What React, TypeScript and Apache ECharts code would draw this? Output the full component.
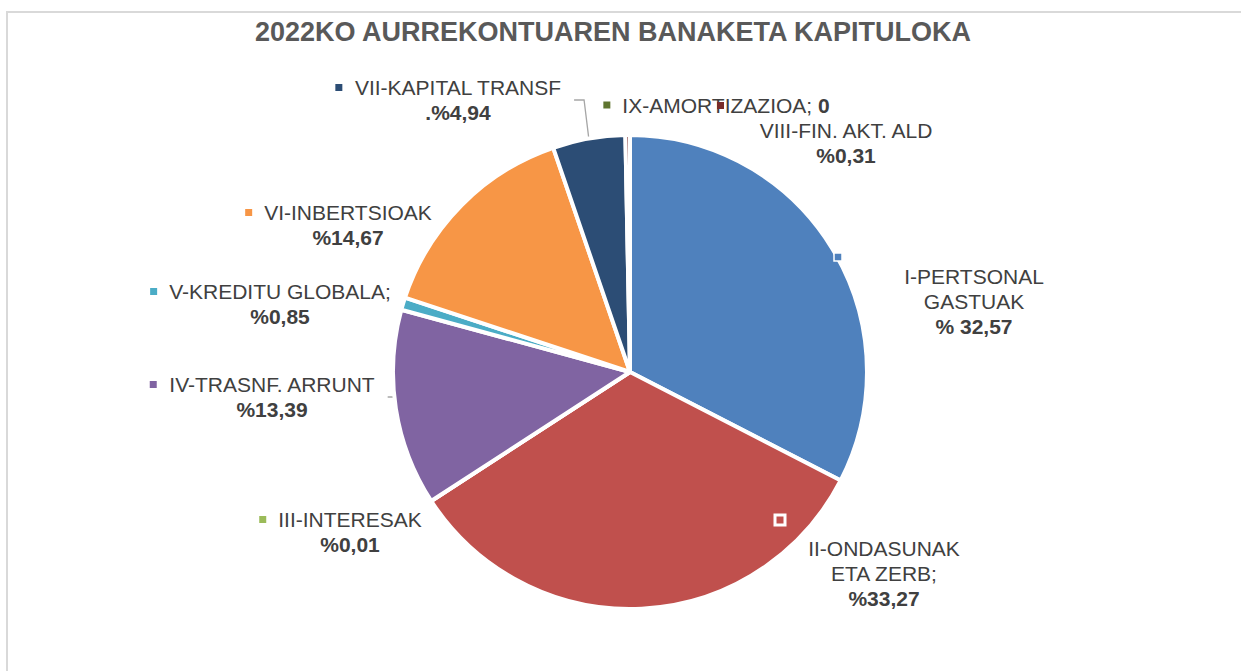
import React, { useEffect, useRef } from "react";
import * as echarts from "echarts";

const TITLE = "2022KO AURREKONTUAREN BANAKETA KAPITULOKA";
const CATEGORIES = [
  "I-PERTSONAL GASTUAK",
  "II-ONDASUNAK ETA ZERB;",
  "III-INTERESAK",
  "IV-TRASNF. ARRUNT",
  "V-KREDITU GLOBALA;",
  "VI-INBERTSIOAK",
  "VII-KAPITAL TRANSF",
  "VIII-FIN. AKT. ALD",
  "IX-AMORTIZAZIOA;",
];
const VALUES = [32.57, 33.27, 0.01, 13.39, 0.85, 14.67, 4.94, 0.31, 0];
// label text lines as shown in the chart
const LABEL_LINES = [
  ["I-PERTSONAL", "GASTUAK"],
  ["II-ONDASUNAK", "ETA ZERB;"],
  ["III-INTERESAK"],
  ["IV-TRASNF. ARRUNT"],
  ["V-KREDITU GLOBALA;"],
  ["VI-INBERTSIOAK"],
  ["VII-KAPITAL TRANSF"],
  ["VIII-FIN. AKT. ALD"],
  ["IX-AMORTIZAZIOA;"],
];
const VALUE_TEXT = ["% 32,57", "%33,27", "%0,01", "%13,39", "%0,85", "%14,67", ".%4,94", "%0,31", "0"];
const COLORS = ["#4F81BD", "#C0504D", "#9BBB59", "#8064A2", "#4BACC6", "#F79646", "#2C4D75", "#772C2A", "#5F7530"];

// layout (label text centres) — styling only
const LABEL_POS: [number, number][] = [
  [974, 301],
  [884, 573],
  [350, 532],
  [272, 397],
  [280, 304],
  [348, 225],
  [458, 100],
  [846, 143],
  [726, 105],
];
const INLINE_MARKER = [false, false, true, true, true, true, true, false, true];
const SINGLE_LINE = [false, false, false, false, false, false, false, false, true];

export default function App() {
  const ref = useRef<HTMLDivElement>(null);
  useEffect(() => {
    if (!ref.current) return;
    const chart = echarts.init(ref.current, null, { renderer: "svg" });
    const font = "'Liberation Sans', Arial, sans-serif";
    const rich: any = {
      t: { fontFamily: font, fontSize: 21, color: "#404040", lineHeight: 25 },
      b: { fontFamily: font, fontSize: 21, fontWeight: "bold", color: "#404040", lineHeight: 25 },
      g: { width: 12, fontSize: 21, color: "transparent" },
      sp: { width: 19, fontSize: 21, color: "transparent" },
    };
    COLORS.forEach((c, i) => {
      rich["m" + i] = { width: 7, height: 7, backgroundColor: c };
    });
    const data = CATEGORIES.map((name, i) => {
      const lines = LABEL_LINES[i];
      let first = "";
      if (INLINE_MARKER[i]) first = `{m${i}|}{g|\u00a0}{t|${lines[0]}}{sp|\u00a0}`;
      else first = `{t|${lines[0]}}`;
      let fmt: string;
      if (SINGLE_LINE[i]) {
        fmt = `{m${i}|}{g|\u00a0}{t|${lines[0]} }{b|${VALUE_TEXT[i]}}{sp|\u00a0}`;
      } else {
        const rest = lines.slice(1).map((l) => `{t|${l}}`);
        fmt = [first, ...rest, `{b|${VALUE_TEXT[i]}}`].join("\n");
      }
      return {
        name,
        value: VALUES[i],
        itemStyle: { color: COLORS[i] },
        label: { formatter: fmt },
        labelLine: { show: i === 3 || i === 6 },
      };
    });
    chart.setOption({
      animation: false,
      title: {
        text: TITLE,
        left: 608,
        top: 13,
        textAlign: "center",
        textStyle: { fontFamily: font, fontSize: 27, fontWeight: "bold", color: "#595959" },
      },
      graphic: [
        {
          type: "rect",
          shape: { x: 7, y: 12, width: 1240, height: 670 },
          style: { fill: "none", stroke: "#d9d9d9", lineWidth: 2 },
          silent: true,
        },
        {
          type: "rect",
          shape: { x: 834, y: 253, width: 8, height: 8 },
          style: { fill: COLORS[0], stroke: "#ffffff", lineWidth: 1.5 },
          z: 10,
        },
        {
          type: "rect",
          shape: { x: 775, y: 515, width: 10, height: 10 },
          style: { fill: COLORS[1], stroke: "#ffffff", lineWidth: 3 },
          z: 10,
        },
        {
          type: "rect",
          shape: { x: 717, y: 102, width: 7, height: 7 },
          style: { fill: COLORS[7] },
          z: 10,
        },
      ],
      series: [
        {
          type: "pie",
          center: [630, 372],
          radius: 237,
          startAngle: 90,
          clockwise: true,
          minAngle: 0,
          avoidLabelOverlap: false,
          stillShowZeroSum: true,
          itemStyle: { borderColor: "#ffffff", borderWidth: 4 },
          label: {
            show: true,
            position: "outside",
            align: "center",
            rich,
          },
          labelLine: { show: false, lineStyle: { color: "#a6a6a6", width: 1.3 }, length: 10, length2: 10 },
          labelLayout: (params: any) => {
            const p = LABEL_POS[params.dataIndex];
            return { x: p[0], y: p[1], align: "center", verticalAlign: "middle" };
          },
          emphasis: { disabled: true },
          data,
        },
      ],
    });
    return () => chart.dispose();
  }, []);
  return <div ref={ref} style={{ position: "absolute", left: 0, top: 0, width: 1241, height: 671 }} />;
}
